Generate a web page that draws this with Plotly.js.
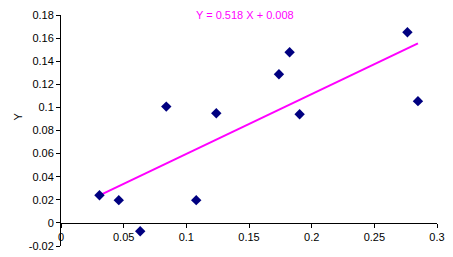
<!DOCTYPE html>
<html>
<head>
<meta charset="utf-8">
<script src="https://cdn.plot.ly/plotly-3.0.1.min.js"></script>
<style>html,body{margin:0;padding:0;background:#fff;}#chart{width:453px;height:257px;}</style>
</head>
<body>
<div id="chart"></div>
<script>
const xValues = [0.0307, 0.0461, 0.0632, 0.0840, 0.1079, 0.1239, 0.1739, 0.1824, 0.1904, 0.2764, 0.2848];
const yValues = [0.0240, 0.0197, -0.0072, 0.1007, 0.0197, 0.0950, 0.1287, 0.1478, 0.0941, 0.1651, 0.1054];
const trendX = [0.0307, 0.2848];
const trendY = [0.0239, 0.1555];
const equationText = "Y = 0.518 X + 0.008";
const yTitle = "Y";
const xTicks = [0, 0.05, 0.1, 0.15, 0.2, 0.25, 0.3];
const xTickLabels = ["0", "0.05", "0.1", "0.15", "0.2", "0.25", "0.3"];
const yTicks = [-0.02, 0, 0.02, 0.04, 0.06, 0.08, 0.1, 0.12, 0.14, 0.16, 0.18];
const yTickLabels = ["-0.02", "0", "0.02", "0.04", "0.06", "0.08", "0.1", "0.12", "0.14", "0.16", "0.18"];

const font = {family: "Liberation Sans, Arial, sans-serif", size: 11, color: "#000"};

const traces = [
  {x: trendX, y: trendY, type: "scatter", mode: "lines",
   line: {color: "#ff00ff", width: 2}, hoverinfo: "skip"},
  {x: xValues, y: yValues, type: "scatter", mode: "markers",
   marker: {symbol: "diamond", color: "#000080", size: 8}}
];

const yMin = -0.02, yMax = 0.18;
const plotW = 453 - 61 - 16;
const plotH = 257 - 15 - 11;
const layout = {
  width: 453, height: 257,
  margin: {l: 61, r: 16, t: 15, b: 11},
  paper_bgcolor: "#fff", plot_bgcolor: "#fff",
  showlegend: false,
  font: font,
  xaxis: {
    range: [0, 0.3], tickvals: xTicks, ticktext: xTickLabels,
    showgrid: false, zeroline: false, showline: true, linecolor: "#000", linewidth: 1,
    ticks: "outside", ticklen: 4, tickcolor: "#000",
    anchor: "free", position: (0 - yMin) / (yMax - yMin),
    tickfont: font, fixedrange: true
  },
  yaxis: {
    range: [yMin, yMax], tickvals: yTicks, ticktext: yTickLabels,
    domain: [0, 1],
    showgrid: false, zeroline: false, showline: true, linecolor: "#000", linewidth: 1,
    ticks: "outside", ticklen: 4, tickcolor: "#000",
    tickfont: font,
    automargin: false, fixedrange: true
  },
  annotations: [{
    text: equationText, xref: "paper", yref: "paper",
    x: (245 - 61) / plotW, y: 1.0, yanchor: "middle", xanchor: "center",
    showarrow: false, font: {family: font.family, size: 11, color: "#ff00ff"}
  }, {
    text: yTitle, xref: "paper", yref: "paper",
    x: (17.5 - 61) / plotW, y: (246 - 117) / plotH, xanchor: "center", yanchor: "middle",
    textangle: -90, showarrow: false, font: font
  }]
};

Plotly.newPlot("chart", traces, layout, {displayModeBar: false, staticPlot: true});
</script>
</body>
</html>
